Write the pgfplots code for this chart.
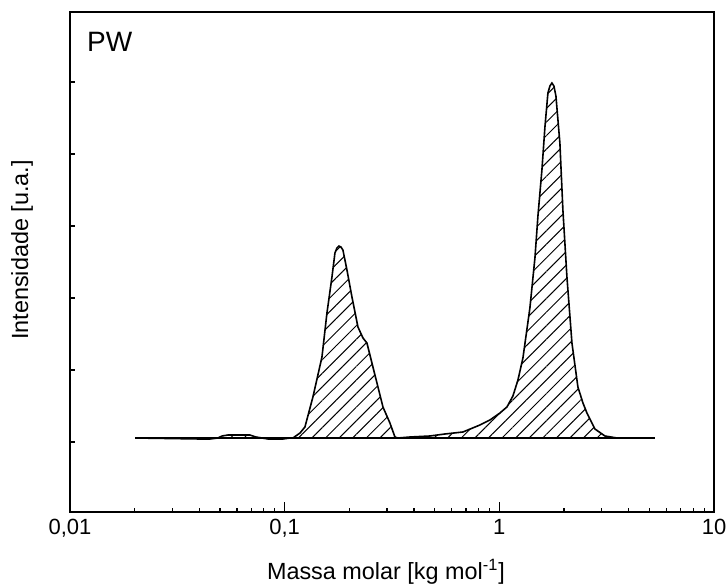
\documentclass[border=0pt]{standalone}
\usepackage{fontspec}
\setmainfont{Liberation Sans}
\usepackage{pgfplots}
\pgfplotsset{compat=1.18}
\usepackage{pgfplotstable}
\usetikzlibrary{patterns.meta}

% molar mass (kg/mol) vs. intensity (arbitrary units)
\pgfplotstableread{
M      h
0.0201  0
0.0403 -1
0.0449 -1
0.0489  0
0.0511  2
0.0544  3
0.0689  3
0.0735  1
0.0784  0
0.0836 -1
0.0982 -1
0.1059  0
0.1093  0
0.1179  5
0.1243  11
0.1354  41
0.1492  81
0.1574  125
0.1661  161
0.1715  185
0.1752  190
0.1790  192
0.1829  191
0.1868  188
0.1951  168
0.2058  141
0.2195  111
0.2316  100
0.2417  95
0.2550  75
0.2691  55
0.2870  31
0.3093  15
0.3264  1
0.3371  0
0.3835  1
0.4750  2
0.5579  4
0.6768  6
0.8121  13
0.9042  18
1.0065  25
1.0850  31
1.157   42
1.221   58
1.288   80
1.388   130
1.465   180
1.513   222
1.579   268
1.631   311
1.684   345
1.721   352
1.758   355
1.796   352
1.835   342
1.915   295
1.978   228
2.065   161
2.179   95
2.323   51
2.452   35
2.559   25
2.788   9
3.104   2
3.530   0
5.305   0
}\gpc

\begin{document}
\begin{tikzpicture}
\begin{axis}[
  scale only axis, width=322pt, height=250pt,
  xmode=log, xmin=0.01, xmax=10,
  ymin=-74, ymax=426,
  xtick={0.01,0.1,1,10}, xticklabels={{0,01},{0,1},1,10},
  ytick=\empty,
  extra y ticks={-4,68,140,212,284,356},
  extra y tick labels={},
  extra y tick style={major tick length=2.5pt},
  tick align=inside,
  xtick pos=bottom, ytick pos=left,
  major tick length=5pt, minor tick length=2pt,
  axis line style={line width=0.8pt},
  every tick/.style={black, line width=0.6pt},
  tick label style={font=\fontsize{11}{13}\selectfont},
  xlabel={Massa molar [kg mol\textsuperscript{-1}]},
  ylabel={Intensidade [u.a.]},
  every axis x label/.style={at={(axis description cs:0.5,0)}, anchor=center, xshift=-3pt, yshift=-30pt, font=\fontsize{11.7}{14}\selectfont},
  every axis y label/.style={at={(axis description cs:-0.0745,0.524)}, anchor=center, rotate=90, font=\fontsize{11.7}{14}\selectfont},
  clip=false,
]
\addplot[black, line width=0.8pt, pattern={Lines[angle=45,distance=4.8pt,line width=0.5pt]}] table[x=M, y=h] {\gpc} \closedcycle;
\node[anchor=north west, font=\fontsize{14}{16}\selectfont, inner sep=0pt] at (rel axis cs:0.026,0.96) {PW};
\coordinate (bl) at (rel axis cs:0,0);
\coordinate (tr) at (rel axis cs:1,1);
\end{axis}
\pgfresetboundingbox
\path (bl) ++(-35pt,-37.5pt) rectangle ([shift={(6pt,6pt)}]tr);
\end{tikzpicture}
\end{document}
